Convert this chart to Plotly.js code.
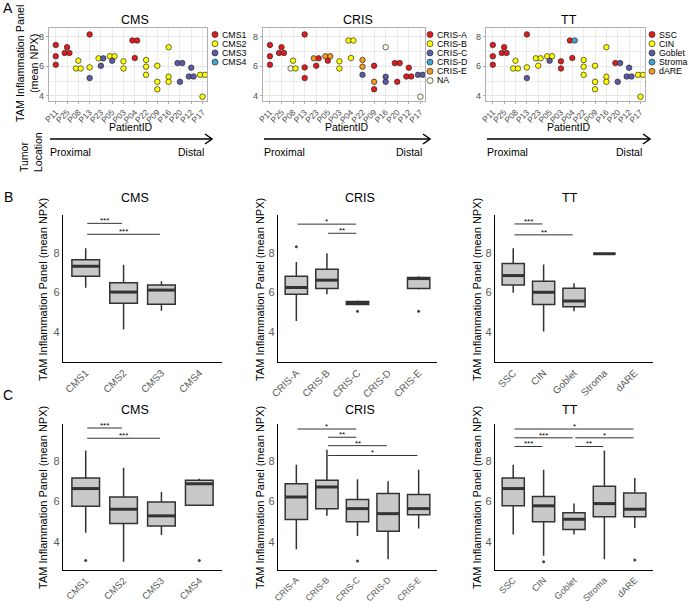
<!DOCTYPE html>
<html><head><meta charset="utf-8">
<script src="https://cdn.plot.ly/plotly-3.0.1.min.js"></script>
<style>html,body{margin:0;padding:0;background:#fff}#chart{width:693px;height:605px}</style>
</head><body><div id="chart"></div>
<script>
// ---------- DATA ----------
const patients = ['P11','P25','P08','P13','P23','P05','P03','P04','P22','P09','P16','P20','P12','P17'];
// one entry per sample (pairs at the same value are listed left -> right)
const samplePatient = ['P11','P11','P11','P25','P25','P25','P08','P08','P08','P13','P13','P13','P23','P23','P23','P05','P05','P05','P03','P03','P04','P04','P04','P22','P22','P22','P09','P09','P09','P16','P16','P16','P20','P20','P20','P12','P12','P12','P17','P17','P17'];
const sampleNPX = [7.43,6.67,6.10,7.28,6.89,6.89,6.37,5.85,5.85,8.14,5.92,5.20,6.53,6.53,6.03,6.67,6.67,6.37,6.33,5.85,7.73,7.73,6.55,6.42,5.97,5.42,6.03,4.95,4.45,7.28,5.29,4.95,6.21,6.21,4.95,5.90,5.31,5.31,5.42,5.42,3.95];
const sampleCMS = ['CMS1','CMS1','CMS1','CMS1','CMS1','CMS1','CMS2','CMS2','CMS2','CMS1','CMS2','CMS3','CMS2','CMS3','CMS3','CMS2','CMS2','CMS3','CMS2','CMS2','CMS1','CMS1','CMS1','CMS2','CMS2','CMS2','CMS2','CMS2','CMS2','CMS2','CMS2','CMS2','CMS3','CMS3','CMS3','CMS3','CMS3','CMS3','CMS2','CMS2','CMS2'];
const sampleCRIS = ['CRIS-A','CRIS-A','CRIS-A','CRIS-A','CRIS-A','CRIS-A','CRIS-B','NA','CRIS-B','CRIS-A','CRIS-A','CRIS-A','CRIS-E','CRIS-A','CRIS-A','CRIS-E','CRIS-E','CRIS-A','CRIS-B','CRIS-B','CRIS-B','CRIS-B','CRIS-B','CRIS-E','CRIS-E','CRIS-C','CRIS-A','CRIS-E','CRIS-A','NA','CRIS-C','CRIS-C','CRIS-A','CRIS-A','CRIS-A','CRIS-A','CRIS-A','CRIS-A','CRIS-C','CRIS-C','NA'];
const sampleTT = ['SSC','SSC','SSC','SSC','SSC','SSC','CIN','CIN','CIN','SSC','CIN','Goblet','CIN','CIN','CIN','CIN','CIN','Goblet','SSC','SSC','SSC','Stroma','SSC','CIN','CIN','CIN','CIN','CIN','CIN','CIN','CIN','CIN','SSC','Goblet','Goblet','Goblet','Goblet','Goblet','CIN','CIN','CIN'];

const cmsLevels = ['CMS1','CMS2','CMS3','CMS4'];
const crisLevels = ['CRIS-A','CRIS-B','CRIS-C','CRIS-D','CRIS-E','NA'];
const ttLevels = ['SSC','CIN','Goblet','Stroma','dARE'];
const crisBoxLevels = ['CRIS-A','CRIS-B','CRIS-C','CRIS-D','CRIS-E'];

// Panel B box statistics (per category index)
const bCmsX=[0,1,2], bCmsUp=[8.23,7.40,6.57], bCmsQ3=[7.65,6.49,6.37], bCmsMed=[7.32,6.02,6.12], bCmsQ1=[6.82,5.46,5.41], bCmsLo=[6.24,4.13,5.08];
const bCmsOutX=[], bCmsOutY=[];
const bCrisX=[0,1,2,4], bCrisUp=[7.54,7.97,5.60,6.82], bCrisQ3=[6.82,7.17,5.55,6.75], bCrisMed=[6.25,6.62,5.47,6.70], bCrisQ1=[5.91,6.20,5.40,6.20], bCrisLo=[4.56,5.91,5.40,6.15];
const bCrisOutX=[0,2,4], bCrisOutY=[8.30,5.06,5.06];
const bTtX=[0,1,2,3], bTtUp=[8.22,7.41,6.47,7.95], bTtQ3=[7.46,6.56,6.21,7.95], bTtMed=[6.85,6.01,5.57,7.95], bTtQ1=[6.37,5.40,5.28,7.95], bTtLo=[5.98,4.04,5.06,7.95];
const bTtOutX=[], bTtOutY=[];
// Panel C box statistics
const cCmsX=[0,1,2,3], cCmsUp=[8.55,7.69,6.48,7.14], cCmsQ3=[7.18,6.23,5.98,7.06], cCmsMed=[6.65,5.62,5.29,6.89], cCmsQ1=[5.77,4.91,4.79,5.82], cCmsLo=[4.45,3.00,4.33,5.82];
const cCmsOutX=[0,3], cCmsOutY=[3.06,3.06];
const cCrisX=[0,1,2,3,4], cCrisUp=[7.84,8.58,7.11,7.01,7.59], cCrisQ3=[6.89,7.06,6.11,6.40,6.35], cCrisMed=[6.23,6.73,5.65,5.40,5.65], cCrisQ1=[5.11,5.65,4.99,4.52,5.35], cCrisLo=[3.63,5.29,4.28,3.12,4.66];
const cCrisOutX=[2], cCrisOutY=[3.04];
const cTtX=[0,1,2,3,4], cTtUp=[7.84,7.59,5.90,8.55,7.18], cTtQ3=[7.18,6.26,5.44,6.76,6.43], cTtMed=[6.65,5.79,5.12,5.90,5.62], cTtQ1=[5.79,4.99,4.61,5.24,5.24], cTtLo=[4.36,3.30,4.36,3.12,4.69];
const cTtOutX=[1,4], cTtOutY=[3.00,3.09];

// significance brackets
const bCmsSigFrom=[0,0], bCmsSigTo=[1,2], bCmsSigY=[9.48,8.93], bCmsSigLab=['***','***'];
const bCrisSigFrom=[0,1], bCrisSigTo=[2,2], bCrisSigY=[9.44,8.98], bCrisSigLab=['*','**'];
const bTtSigFrom=[0,0], bTtSigTo=[1,2], bTtSigY=[9.45,8.90], bTtSigLab=['***','**'];
const cCmsSigFrom=[0,0], cCmsSigTo=[1,2], cCmsSigY=[9.67,9.16], cCmsSigLab=['***','***'];
const cCrisSigFrom=[0,1,1,1], cCrisSigTo=[2,2,3,4], cCrisSigY=[9.62,9.21,8.79,8.30], cCrisSigLab=['*','**','**','*'];
const cTtSigFrom=[0,0,2,0,2], cTtSigTo=[4,2,4,1,3], cTtSigY=[9.62,9.18,9.18,8.75,8.75], cTtSigLab=['*','***','*','***','**'];

// ---------- STYLE / LAYOUT ----------
const W=693, H=605;
const FONT='Liberation Sans, Arial, sans-serif';
const px=x=>x/W, py=y=>1-y/H;
const dX=(a,b)=>[a/W,b/W], dY=(t,b)=>[1-b/H,1-t/H];
const palette = {'CMS1':'#E41A1C','CMS2':'#FFFF00','CMS3':'#5B5BA8','CMS4':'#3FA5D6',
 'CRIS-A':'#E41A1C','CRIS-B':'#FFFF00','CRIS-C':'#5B5BA8','CRIS-D':'#3FA5D6','CRIS-E':'#F39A1E','NA':'#FFFFE6',
 'SSC':'#E41A1C','CIN':'#FFFF00','Goblet':'#5B5BA8','Stroma':'#3FA5D6','dARE':'#F39A1E'};

const traces=[], shapes=[], annotations=[];
function ann(x,y,text,opt){annotations.push(Object.assign({xref:'paper',yref:'paper',x:px(x),y:py(y),text:text,showarrow:false,xanchor:'center',yanchor:'middle',font:{family:FONT,size:11,color:'#000'}},opt||{}));}

// dodge offsets for equal values within a patient
const pIdx = samplePatient.map(p=>patients.indexOf(p));
const xOff = sampleNPX.map((v,i)=>{
  const grp=[]; sampleNPX.forEach((w,j)=>{ if(samplePatient[j]===samplePatient[i] && w===v) grp.push(j); });
  if(grp.length<2) return 0;
  const k=grp.indexOf(i); return (k-(grp.length-1)/2)*0.42;
});

const layout={width:W,height:H,margin:{l:0,r:0,t:0,b:0},paper_bgcolor:'#fff',plot_bgcolor:'rgba(0,0,0,0)',showlegend:false,font:{family:FONT}};

// ---- Panel A ----
const aPanels=[
 {ax:'',groups:sampleCMS,levels:cmsLevels,x0:49,x1:207,title:'CMS',tx:135,legX:215},
 {ax:'2',groups:sampleCRIS,levels:crisLevels,x0:263,x1:425,title:'CRIS',tx:358,legX:430},
 {ax:'3',groups:sampleTT,levels:ttLevels,x0:486,x1:645,title:'TT',tx:569,legX:652}];
aPanels.forEach(p=>{
  layout['xaxis'+p.ax]={domain:dX(p.x0,p.x1),anchor:'y'+p.ax,range:[-0.6,13.4],tickmode:'array',tickvals:patients.map((_,i)=>i),ticktext:patients,
    tickangle:-45,tickfont:{family:FONT,size:8.3,color:'#4d4d4d'},showgrid:true,gridcolor:'#e6e6e6',gridwidth:0.8,zeroline:false,
    showline:true,mirror:true,linecolor:'#b0b0b0',linewidth:1.3,ticks:'outside',ticklen:2,tickcolor:'#b0b0b0'};
  layout['yaxis'+p.ax]={domain:dY(28,101),anchor:'x'+p.ax,range:[3.66,8.57],tickmode:'array',tickvals:[4,6,8],
    tickfont:{family:FONT,size:9,color:'#4d4d4d'},showgrid:true,gridcolor:'#e6e6e6',gridwidth:0.8,zeroline:false,
    minor:{tickmode:'linear',tick0:0,dtick:1,showgrid:true,gridcolor:'#e6e6e6',gridwidth:0.8},
    showline:true,mirror:true,linecolor:'#b0b0b0',linewidth:1.3,ticks:'outside',ticklen:2,tickcolor:'#b0b0b0'};
  traces.push({type:'scatter',mode:'markers',xaxis:'x'+p.ax,yaxis:'y'+p.ax,
    x:pIdx.map((v,i)=>v+xOff[i]),y:sampleNPX,hoverinfo:'skip',cliponaxis:false,
    marker:{size:5.5,color:p.groups.map(g=>palette[g]),line:{color:'#2a2a2a',width:0.7}}});
  ann(p.tx,20,p.title,{font:{family:FONT,size:12.5,color:'#000'}});
  ann((p.x0+p.x1)/2+3,127,'PatientID',{font:{family:FONT,size:10.5,color:'#000'}});
  // legend
  p.levels.forEach((lv,i)=>{
    const cy=34.5+i*9.2, cx=p.legX;
    shapes.push({type:'circle',xref:'paper',yref:'paper',x0:px(cx-3),x1:px(cx+3),y0:py(cy+3),y1:py(cy-3),fillcolor:palette[lv],line:{color:'#2a2a2a',width:0.7}});
    ann(cx+4.5,cy,lv,{xanchor:'left',yanchor:'middle',font:{family:FONT,size:8.8,color:'#000'}});
  });
  // tumor location arrow
  const ay=139, ar=p.x1+5;
  shapes.push({type:'line',xref:'paper',yref:'paper',x0:px(p.x0+1),x1:px(ar),y0:py(ay),y1:py(ay),line:{color:'#000',width:1.5}});
  shapes.push({type:'path',xref:'paper',yref:'paper',path:`M${px(ar-7)},${py(ay-5)} L${px(ar)},${py(ay)} L${px(ar-7)},${py(ay+5)}`,line:{color:'#000',width:1.5}});
  ann(p.x0-1,152,'Proximal',{xanchor:'left',font:{family:FONT,size:10.5,color:'#000'}});
  ann(ar-6,152,'Distal',{xanchor:'right',font:{family:FONT,size:10.5,color:'#000'}});
});
ann(27,64,'TAM Inflammation Panel<br>(mean NPX)',{textangle:-90,font:{family:FONT,size:10.8,color:'#000'}});
ann(31,152,'Tumor<br>Location',{textangle:-90,align:'left',font:{family:FONT,size:10.5,color:'#000'}});

// ---- Panels B and C ----
const boxPanels=[
 {ax:'4',cats:cmsLevels,X:bCmsX,up:bCmsUp,q3:bCmsQ3,med:bCmsMed,q1:bCmsQ1,lo:bCmsLo,ox:bCmsOutX,oy:bCmsOutY,sf:bCmsSigFrom,st:bCmsSigTo,sy:bCmsSigY,sl:bCmsSigLab,x0:63,x1:222,top:215,bot:362,range:[2.5,9.9],title:'CMS',tx:135,ty:198,ytx:43,yty:290,tfs:10},
 {ax:'5',cats:crisBoxLevels,X:bCrisX,up:bCrisUp,q3:bCrisQ3,med:bCrisMed,q1:bCrisQ1,lo:bCrisLo,ox:bCrisOutX,oy:bCrisOutY,sf:bCrisSigFrom,st:bCrisSigTo,sy:bCrisSigY,sl:bCrisSigLab,x0:278,x1:437,top:215,bot:362,range:[2.5,9.9],title:'CRIS',tx:360,ty:198,ytx:260,yty:290,tfs:10},
 {ax:'6',cats:ttLevels,X:bTtX,up:bTtUp,q3:bTtQ3,med:bTtMed,q1:bTtQ1,lo:bTtLo,ox:bTtOutX,oy:bTtOutY,sf:bTtSigFrom,st:bTtSigTo,sy:bTtSigY,sl:bTtSigLab,x0:495,x1:653,top:215,bot:362,range:[2.5,9.9],title:'TT',tx:570,ty:198,ytx:477,yty:290,tfs:10},
 {ax:'7',cats:cmsLevels,X:cCmsX,up:cCmsUp,q3:cCmsQ3,med:cCmsMed,q1:cCmsQ1,lo:cCmsLo,ox:cCmsOutX,oy:cCmsOutY,sf:cCmsSigFrom,st:cCmsSigTo,sy:cCmsSigY,sl:cCmsSigLab,x0:63,x1:222,top:424,bot:570,range:[2.59,9.87],title:'CMS',tx:135,ty:410,ytx:43,yty:498,tfs:9.6},
 {ax:'8',cats:crisBoxLevels,X:cCrisX,up:cCrisUp,q3:cCrisQ3,med:cCrisMed,q1:cCrisQ1,lo:cCrisLo,ox:cCrisOutX,oy:cCrisOutY,sf:cCrisSigFrom,st:cCrisSigTo,sy:cCrisSigY,sl:cCrisSigLab,x0:278,x1:437,top:424,bot:570,range:[2.59,9.87],title:'CRIS',tx:360,ty:410,ytx:260,yty:498,tfs:8.8},
 {ax:'9',cats:ttLevels,X:cTtX,up:cTtUp,q3:cTtQ3,med:cTtMed,q1:cTtQ1,lo:cTtLo,ox:cTtOutX,oy:cTtOutY,sf:cTtSigFrom,st:cTtSigTo,sy:cTtSigY,sl:cTtSigLab,x0:495,x1:653,top:424,bot:570,range:[2.59,9.87],title:'TT',tx:570,ty:410,ytx:477,yty:498,tfs:9.2}];
const BW=0.73;
boxPanels.forEach(p=>{
  const n=p.cats.length;
  layout['xaxis'+p.ax]={domain:dX(p.x0,p.x1),anchor:'y'+p.ax,range:[-0.6,n-0.4],tickmode:'array',tickvals:p.cats.map((_,i)=>i),ticktext:p.cats,
    tickangle:-45,tickfont:{family:FONT,size:p.tfs,color:'#5a5a5a'},showgrid:false,zeroline:false,showline:true,linecolor:'#000',linewidth:1.3,ticks:''};
  layout['yaxis'+p.ax]={domain:dY(p.top,p.bot),anchor:'x'+p.ax,range:p.range,tickmode:'array',tickvals:[4,6,8],
    tickfont:{family:FONT,size:11,color:'#5a5a5a'},showgrid:false,zeroline:false,showline:true,linecolor:'#000',linewidth:1.3,ticks:''};
  traces.push({type:'box',xaxis:'x'+p.ax,yaxis:'y'+p.ax,x:p.X,q1:p.q1,median:p.med,q3:p.q3,lowerfence:p.lo,upperfence:p.up,
    width:BW,whiskerwidth:0,fillcolor:'#c9c9c9',line:{color:'#333',width:1.5},boxpoints:false,hoverinfo:'skip'});
  p.X.forEach((xi,k)=>{
    shapes.push({type:'line',xref:'x'+p.ax,yref:'y'+p.ax,x0:xi-BW/2,x1:xi+BW/2,y0:p.med[k],y1:p.med[k],line:{color:'#333',width:3}});
  });
  if(p.ox.length) traces.push({type:'scatter',mode:'markers',xaxis:'x'+p.ax,yaxis:'y'+p.ax,x:p.ox,y:p.oy,hoverinfo:'skip',marker:{size:3,color:'#444'}});
  p.sf.forEach((f,k)=>{
    const t=p.st[k], s=0.04;
    shapes.push({type:'line',xref:'x'+p.ax,yref:'y'+p.ax,x0:f+s,x1:t-s,y0:p.sy[k],y1:p.sy[k],line:{color:'#333',width:1}});
    annotations.push({xref:'x'+p.ax,yref:'y'+p.ax,x:(f+t)/2,y:p.sy[k],text:p.sl[k],showarrow:false,xanchor:'center',yanchor:'bottom',yshift:-4,font:{family:FONT,size:8,color:'#000'}});
  });
  ann(p.tx,p.ty,p.title,{font:{family:FONT,size:12.5,color:'#000'}});
  ann(p.ytx,p.yty,'TAM Inflammation Panel (mean NPX)',{textangle:-90,font:{family:FONT,size:11,color:'#000'}});
});

// panel letters
ann(8,8,'A',{font:{family:FONT,size:14,color:'#000'}});
ann(8,197,'B',{font:{family:FONT,size:14,color:'#000'}});
ann(8,395,'C',{font:{family:FONT,size:14,color:'#000'}});

layout.shapes=shapes; layout.annotations=annotations;
Plotly.newPlot('chart',traces,layout,{staticPlot:true,displayModeBar:false});
</script></body></html>
